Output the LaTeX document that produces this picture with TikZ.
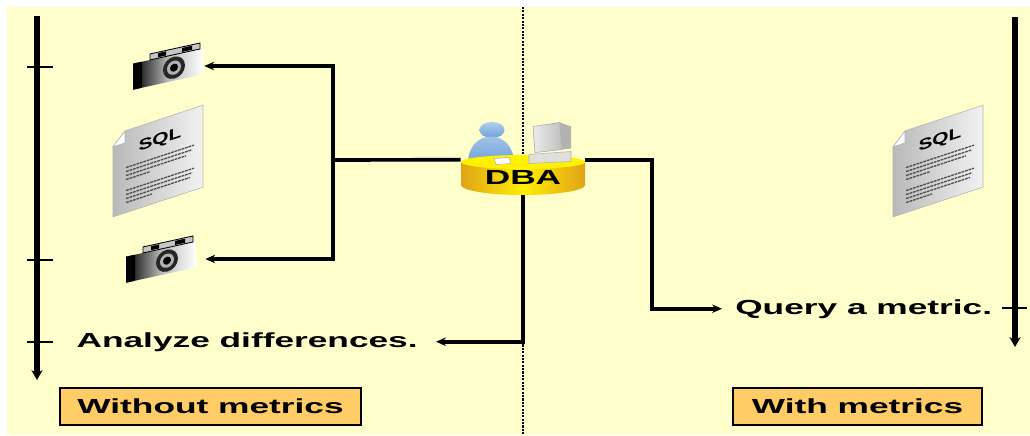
\documentclass[tikz,border=0pt]{standalone}
\usepackage{fontspec}
\setmainfont{Liberation Sans}
\usepackage{xcolor}
\usepackage{tikz}
\usetikzlibrary{arrows.meta,positioning,calc}

\definecolor{slidebg}{HTML}{FFFFCC}
\definecolor{tagfill}{HTML}{FFCC66}
\definecolor{deskgold}{HTML}{E0A418}
\definecolor{deskyellow}{HTML}{FFEE00}
\definecolor{userblue}{HTML}{6FA3DA}

% stretched bold lettering
\newcommand{\wide}[1]{\scalebox{1.73}[1]{#1}}

\begin{document}
\begin{tikzpicture}[x=0.025cm, y=-0.025cm,
  txt/.style={font=\fontsize{14.5}{17}\selectfont\bfseries, inner sep=0pt},
  phasetag/.style={draw=black, line width=2pt, fill=tagfill, minimum height=0.925cm, inner sep=0pt, font=\fontsize{14.5}{17}\selectfont\bfseries},
  timeline/.style={line width=3.8pt, -{Stealth[length=7pt, width=8pt]}},
  axistick/.style={line width=2pt},
  link/.style={line width=2.6pt},
  linkarrow/.style={link, -{Stealth[length=7pt, width=6pt]}},
  divider/.style={line width=1.9pt, dash pattern=on 1.5pt off 0.9pt},
  iconbox/.style={inner sep=0pt, minimum height=1.2cm},
  camera/.pic={
    \begin{scope}[yslant=0.22]
      % body and dark end
      \shade[left color=black, right color=white, middle color=gray!55] (-35,-10) rectangle (35,16);
      \fill[black] (-35,-10) rectangle (-26,16);
      % top deck
      \fill[gray!45, draw=black, line width=0.6pt] (-18,-16) rectangle (32,-10);
      \fill[black] (-10,-15) rectangle (-2,-11);
      \fill[black] (14,-15) rectangle (24,-11);
      % lens
      \fill[black!85] (6,3) circle [radius=11];
      \fill[gray!60] (6,3) circle [radius=7];
      \fill[black] (6,3) circle [radius=4];
    \end{scope}
  },
  sqldoc/.pic={
    \begin{scope}[yslant=0.33]
      \shade[left color=gray!55, right color=gray!10, draw=gray!60, line width=0.4pt]
        (-45,-29) -- (-33,-41) -- (45,-41) -- (45,41) -- (-45,41) -- cycle;
      \fill[white, draw=gray!60, line width=0.4pt] (-45,-29) -- (-33,-29) -- (-33,-41) -- cycle;
      \node[transform shape, inner sep=0pt, font=\fontsize{11}{13}\selectfont\bfseries] (title) at (2,-20) {\scalebox{1.35}[1]{SQL}};
      \foreach \y/\w in {-4/68, 0/66, 4/60, 8/24, 19/68, 23/66, 27/64, 31/26}
        \draw[line width=0.9pt, black!70, dash pattern=on 2pt off 0.6pt] (-32,\y) -- ++(\w,0);
    \end{scope}
  }
]
\useasboundingbox (0,0) rectangle (1030,435);
\fill[slidebg] (7,7) rectangle (1030,435);

% divider between the two panels
\coordinate (divtop) at (523,7);
\coordinate (divbot) at (523,435);
\draw[divider] (divtop) -- (divbot);

% time axes
\coordinate (ltop) at (37,16);
\coordinate (lbot) at (37,380);
\draw[timeline] (ltop) -- (lbot);
\foreach \y in {67,260,342}
  \draw[axistick] (27,\y) -- (53,\y);

\coordinate (rtop) at (1015,17);
\coordinate (rbot) at (1015,347);
\draw[timeline] (rtop) -- (rbot);
\draw[axistick] (1002,308) -- (1027,308);

% snapshots and statements
\node[iconbox, minimum width=1.8cm] (cam1) at (168,66) {};
\pic at (cam1) {camera};
\node[iconbox, minimum width=2.2cm] (cam2) at (161,259) {};
\pic at (cam2) {camera};
\pic (docL) at (158,161) {sqldoc};
\pic (docR) at (938,161) {sqldoc};

% DBA at the desk
\coordinate (desk) at (523,177.5);
\begin{scope}[shift={(desk)}]
  % user
  \shade[top color=userblue!55, bottom color=userblue] (-31,-47.5) ellipse [x radius=12.5, y radius=8];
  \shade[top color=userblue!55, bottom color=userblue]
    (-55,-14) .. controls (-55,-50) and (-9,-50) .. (-9,-14) -- cycle;
  % workstation
  \shade[left color=gray!15, right color=gray!50, draw=gray!70, line width=0.4pt]
    (10,-51) -- (37,-55) -- (39,-28) -- (12,-25) -- cycle;
  \fill[gray!60] (37,-55) -- (48,-51) -- (48,-29) -- (39,-28) -- cycle;
  % desk
  \shade[left color=deskgold, right color=deskgold, middle color=deskyellow] (-62,-15.5) rectangle (62,7.5);
  \shade[left color=deskgold, right color=deskgold, middle color=deskyellow] (0,7.5) ellipse [x radius=62, y radius=10];
  \fill[deskyellow!80!yellow] (0,-15.5) ellipse [x radius=62, y radius=7];
  \fill[gray!25, draw=gray!60, line width=0.4pt] (6,-23) -- (48,-26) -- (48,-16) -- (6,-14) -- cycle;
  \fill[white, draw=gray!60, line width=0.4pt] (-29,-19) -- (-14,-20) -- (-12,-14) -- (-27,-13) -- cycle;
\end{scope}
\node[txt, minimum width=3.1cm, minimum height=0.875cm] (dba) at (desk) {\wide{DBA}};

% results
\node[txt, inner xsep=0.45cm, anchor=base east] (analyze) at (436,347) {\wide{Analyze differences.}};
\node[txt, inner xsep=0.325cm, anchor=base west] (query) at (722,314) {\wide{Query a metric.}};

% connectors
\coordinate (fork) at (333,160);
\coordinate (qbend) at (652,308);
\draw[link] (dba.north west) -- (fork);
\draw[linkarrow] (fork) |- (cam1.east);
\draw[linkarrow] (fork) |- (cam2.east);
\draw[linkarrow] (dba.north east) -| (qbend |- query.west) -- (query.west);
\draw[linkarrow] (dba.south) |- (analyze.east);

% phase tags
\node[phasetag, minimum width=7.525cm] (nometrics) at (210.5,406.5) {\wide{Without metrics}};
\node[phasetag, minimum width=6.225cm] (withmetrics) at (857.5,406.5) {\wide{With metrics}};

\end{tikzpicture}
\end{document}
